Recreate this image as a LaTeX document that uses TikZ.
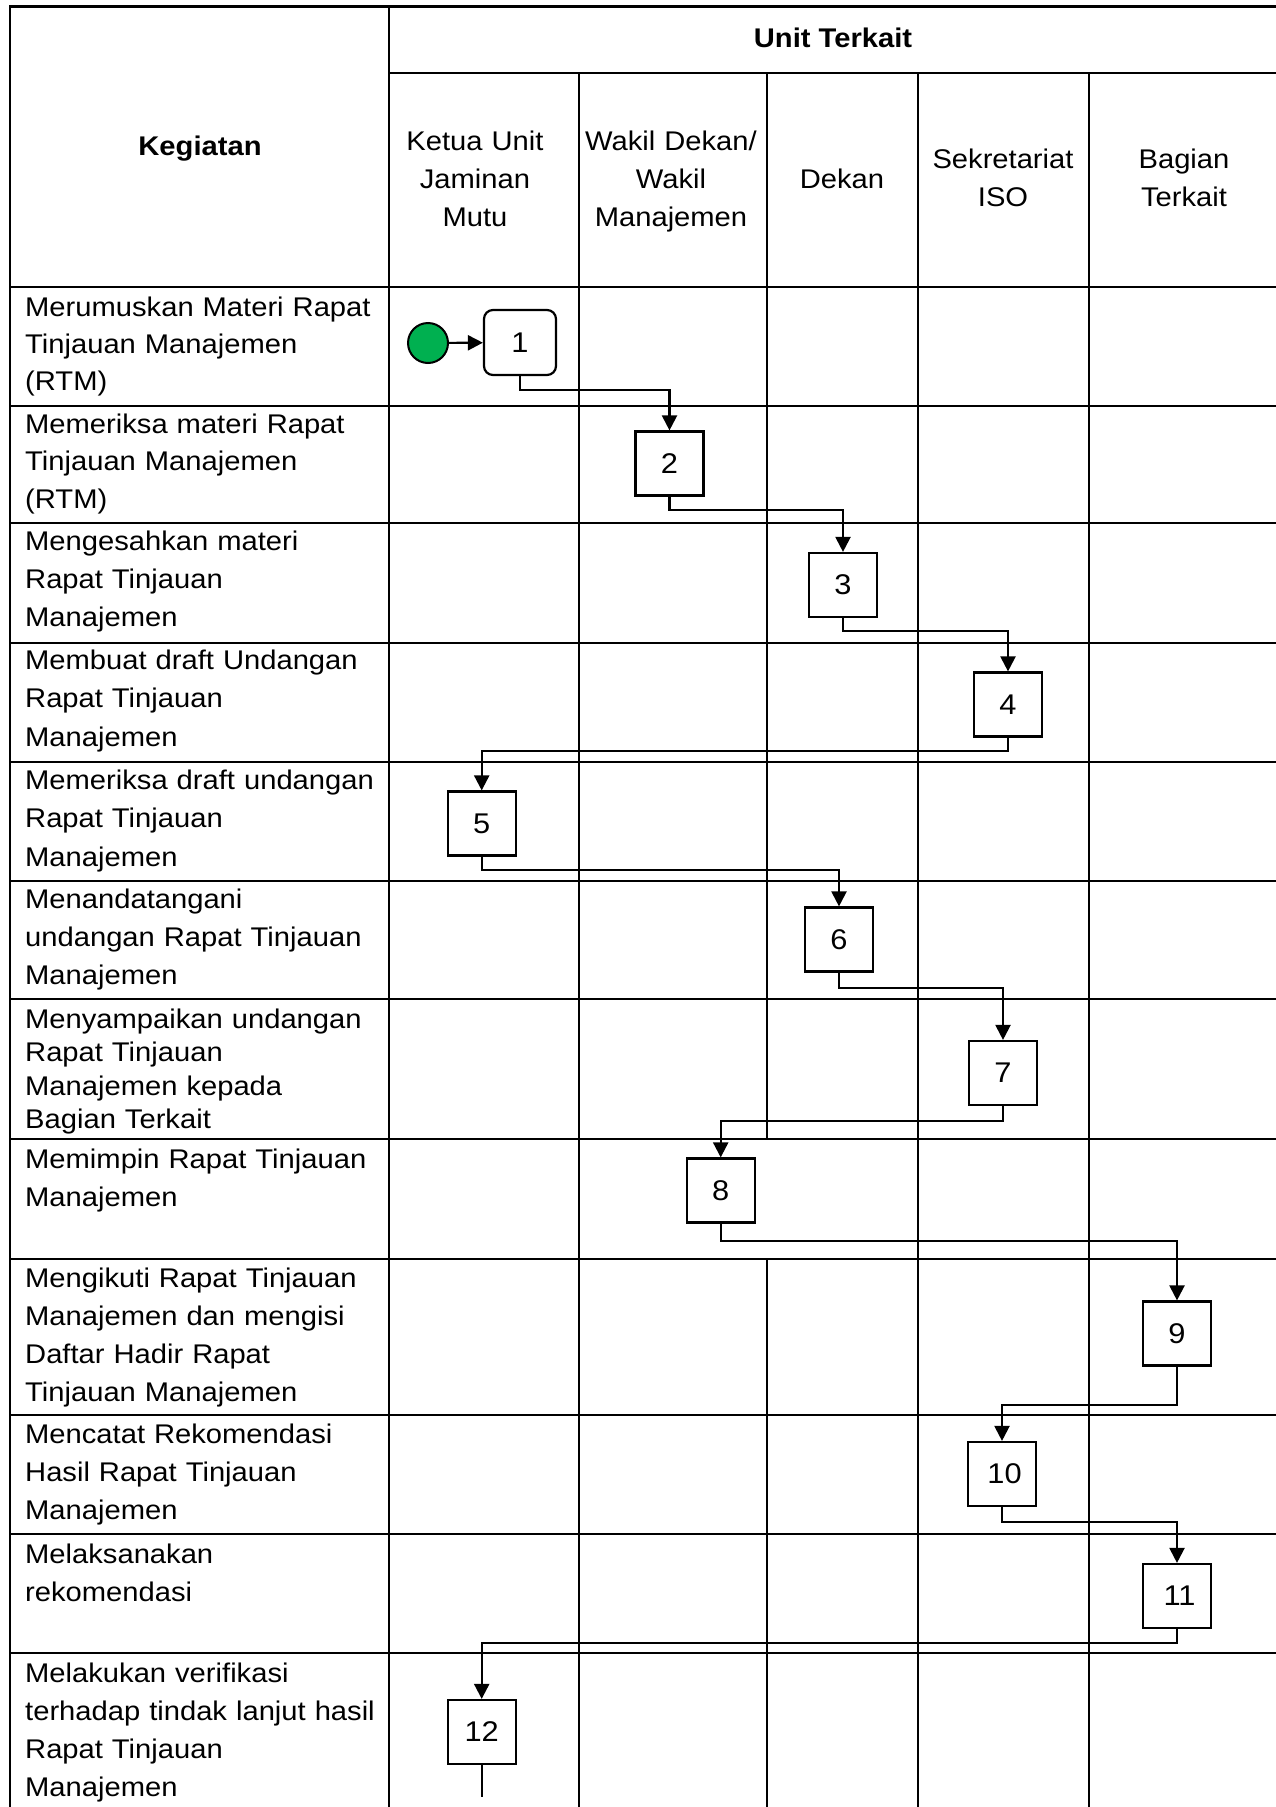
\documentclass[tikz,border=0pt]{standalone}
\usepackage{fontspec}
\setmainfont{Liberation Sans}[FakeStretch=1.08]
\usetikzlibrary{arrows.meta}
\definecolor{startgreen}{HTML}{00B050}
\begin{document}
\begin{tikzpicture}[x=1pt,y=-1pt,
  gridline/.style={line width=2.5pt, line cap=rect},
  flowbox/.style={draw, line width=2.2pt, minimum width=68pt, minimum height=64pt, inner sep=0pt, font=\fontsize{28.5}{30}\selectfont},
  conn/.style={line width=2.2pt, -{Triangle[length=15pt,width=15pt]}},
  plainconn/.style={line width=2.2pt},
  rowtext/.style={anchor=base west, text width=365pt, align=left, inner sep=0pt, font=\fontsize{27}{#1}\selectfont},
  rowtext/.default=38.3,
  colhead/.style={anchor=base, text width=185pt, align=center, inner sep=0pt, font=\fontsize{27}{38.3}\selectfont},
  boldhead/.style={anchor=base, inner sep=0pt, font=\fontsize{27}{32}\selectfont\bfseries}
]
\useasboundingbox (0,0) rectangle (1275,1807);

% ---- table grid ----
\draw[gridline] (10,6.7) -- (1275,6.7);
\draw[gridline] (10,6.7) -- (10,1807);
\draw[gridline] (389,6.7) -- (389,1807);
\draw[gridline] (389,73) -- (1275,73);
\draw[gridline] (579,73) -- (579,1807);
\draw[gridline] (767,73) -- (767,1139);
\draw[gridline] (767,1259) -- (767,1807);
\draw[gridline] (918,73) -- (918,1807);
\draw[gridline] (1089,73) -- (1089,1807);
\foreach \yy in {287,406,523,643,762,881,999,1139,1259,1415,1534,1653}
  \draw[gridline] (10,\yy) -- (1275,\yy);

% ---- headers ----
\node[boldhead] (kegiatan) at (200,155) {Kegiatan};
\node[boldhead] (unitterkait) at (833,47) {Unit Terkait};
\node[colhead] (hketua) at (475,150) {Ketua Unit\\Jaminan\\Mutu};
\node[colhead] (hwakil) at (671,150) {Wakil Dekan/\\Wakil\\Manajemen};
\node[colhead] (hdekan) at (842,188.3) {Dekan};
\node[colhead] (hsekre) at (1003,168.3) {Sekretariat\\ISO};
\node[colhead] (hbagian) at (1184,168.3) {Bagian\\Terkait};

% ---- activity texts ----
\node[rowtext=37] (r1) at (25,316.5) {Merumuskan Materi Rapat\\Tinjauan Manajemen\\(RTM)};
\node[rowtext=37.5] (r2) at (25,433) {Memeriksa materi Rapat\\Tinjauan Manajemen\\(RTM)};
\node[rowtext] (r3) at (25,550) {Mengesahkan materi\\Rapat Tinjauan\\Manajemen};
\node[rowtext] (r4) at (25,669.5) {Membuat draft Undangan\\Rapat Tinjauan\\Manajemen};
\node[rowtext] (r5) at (25,789.5) {Memeriksa draft undangan\\Rapat Tinjauan\\Manajemen};
\node[rowtext] (r6) at (25,908) {Menandatangani\\undangan Rapat Tinjauan\\Manajemen};
\node[rowtext=33.5] (r7) at (25,1028) {Menyampaikan undangan\\Rapat Tinjauan\\Manajemen kepada\\Bagian Terkait};
\node[rowtext] (r8) at (25,1168) {Memimpin Rapat Tinjauan\\Manajemen};
\node[rowtext] (r9) at (25,1287) {Mengikuti Rapat Tinjauan\\Manajemen dan mengisi\\Daftar Hadir Rapat\\Tinjauan Manajemen};
\node[rowtext] (r10) at (25,1443) {Mencatat Rekomendasi\\Hasil Rapat Tinjauan\\Manajemen};
\node[rowtext] (r11) at (25,1563) {Melaksanakan\\rekomendasi};
\node[rowtext] (r12) at (25,1682) {Melakukan verifikasi\\terhadap tindak lanjut hasil\\Rapat Tinjauan\\Manajemen};

% ---- flow ----
\node[circle, draw, fill=startgreen, line width=2pt, minimum size=40pt, inner sep=0pt] (start) at (428,343) {};
\node[flowbox, rounded corners=9pt, minimum width=72pt, minimum height=65pt] (b1) at (520,342.5) {1};
\node[flowbox] (b2) at (669.5,463.5) {2};
\node[flowbox] (b3) at (843,585) {3};
\node[flowbox] (b4) at (1008,704.5) {4};
\node[flowbox] (b5) at (481.7,823.5) {5};
\node[flowbox] (b6) at (839,939.5) {6};
\node[flowbox] (b7) at (1003,1073) {7};
\node[flowbox] (b8) at (720.7,1190.5) {8};
\node[flowbox] (b9) at (1177,1333.5) {9};
\node[flowbox] (b10) at (1002,1474) {\hspace*{5pt}10};
\node[flowbox] (b11) at (1177,1596) {\hspace*{5pt}11};
\node[flowbox] (b12) at (481.7,1732) {12};
\coordinate (flowend) at (481.7,1797);

\draw[conn] (start) -- (b1);
\draw[conn] (b1.south) -- ++(0,14) -| (b2.north);
\draw[conn] (b2.south) -- ++(0,13) -| (b3.north);
\draw[conn] (b3.south) -- ++(0,13) -| (b4.north);
\draw[conn] (b4.south) -- ++(0,13) -| (b5.north);
\draw[conn] (b5.south) -- ++(0,13) -| (b6.north);
\draw[conn] (b6.south) -- ++(0,15) -| (b7.north);
\draw[conn] (b7.south) -- ++(0,15) -| (b8.north);
\draw[conn] (b8.south) -- ++(0,17) -| (b9.north);
\draw[conn] (b9.south) -- ++(0,38) -| (b10.north);
\draw[conn] (b10.south) -- ++(0,15) -| (b11.north);
\draw[conn] (b11.south) -- ++(0,14) -| (b12.north);
\draw[plainconn] (b12.south) -- (flowend);
\end{tikzpicture}
\end{document}
